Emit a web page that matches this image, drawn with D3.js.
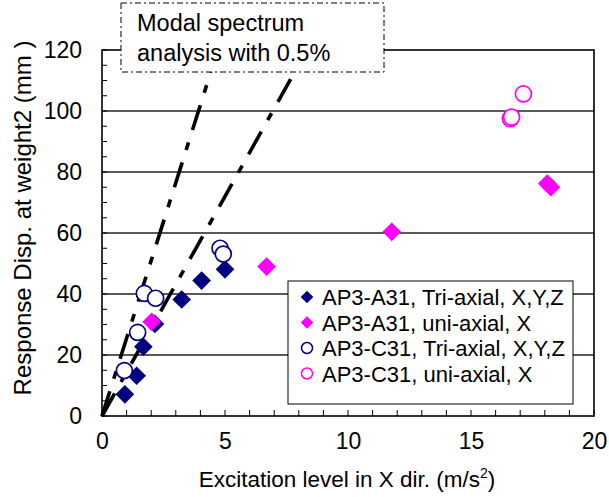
<!DOCTYPE html>
<html><head><meta charset="utf-8">
<script src="https://cdn.jsdelivr.net/npm/d3@7"></script>
<style>body{margin:0;background:#fff}svg{display:block;font-family:"Liberation Sans",Arial,sans-serif}</style>
</head><body>
<svg id="c" width="609" height="497"></svg>
<script>
const a31Tri = [[0.93,7.1],[1.41,13.2],[1.68,22.7],[2.15,30.2],[3.24,38.2],[4.05,44.4],[5.0,48.1]];
const a31Uni = [[2.02,30.9],[6.69,49.0],[11.78,60.4],[18.1,76.2],[18.25,75.0]];
const c31Tri = [[0.91,14.9],[1.45,27.4],[1.72,40.2],[2.18,38.6],[4.8,55.0],[4.93,53.1]];
const c31Uni = [[16.6,97.5],[16.65,98.0],[17.13,105.6]];
const modalSlopes = [25.5, 14.4];
const xTicks = [0,5,10,15,20];
const yTicks = [0,20,40,60,80,100,120];
const legendLabels = ["AP3-A31, Tri-axial, X,Y,Z","AP3-A31, uni-axial, X","AP3-C31, Tri-axial, X,Y,Z","AP3-C31, uni-axial, X"];

const svg = d3.select("#c");
const L=102,R=594,T=50,B=416;
const x = d3.scaleLinear().domain([0,20]).range([L,R]);
const y = d3.scaleLinear().domain([0,120]).range([B,T]);
const navy="#000080", mag="#ff00ff";

// grid
svg.append("g").selectAll("line").data(yTicks.filter(v=>v>0&&v<120)).join("line")
  .attr("x1",L).attr("x2",R).attr("y1",d=>y(d)).attr("y2",d=>y(d))
  .attr("stroke","#222").attr("stroke-width",1.3);

// minor ticks inward
svg.append("g").selectAll("line").data(d3.range(0,121,5)).join("line")
  .attr("x1",L).attr("x2",L+5).attr("y1",d=>y(d)).attr("y2",d=>y(d)).attr("stroke","#000").attr("stroke-width",1);
svg.append("g").selectAll("line").data(d3.range(0,21,1)).join("line")
  .attr("x1",d=>x(d)).attr("x2",d=>x(d)).attr("y1",B).attr("y2",B-6).attr("stroke","#000").attr("stroke-width",1);

// frame
svg.append("rect").attr("x",L).attr("y",T).attr("width",R-L).attr("height",B-T)
  .attr("fill","none").attr("stroke","#000").attr("stroke-width",1.6);

// axes labels
const xa = d3.axisBottom(x).tickValues(xTicks).tickSize(0).tickPadding(17);
const gx = svg.append("g").attr("transform",`translate(0,${B})`).call(xa);
gx.select(".domain").remove();
gx.selectAll("text").attr("font-size",23).attr("font-family","Liberation Sans, Arial").attr("fill","#000");
const ya = d3.axisLeft(y).tickValues(yTicks).tickSize(0).tickPadding(20);
const gy = svg.append("g").attr("transform",`translate(${L},0)`).call(ya);
gy.select(".domain").remove();
gy.selectAll("text").attr("font-size",23).attr("font-family","Liberation Sans, Arial").attr("fill","#000");

// modal lines
const boxBottomY = 72;
modalSlopes.forEach(s=>{
  const yEnd = y.invert(boxBottomY);
  svg.append("line").attr("x1",x(0)).attr("y1",y(0)).attr("x2",x(yEnd/s)).attr("y2",y(yEnd))
    .attr("stroke","#000").attr("stroke-width",3.6).attr("stroke-dasharray","26,13,8,13");
});

// points
const diamond = d3.symbol().type(d3.symbolSquare).size(175);
function diamonds(data,col){
  svg.append("g").selectAll("path").data(data).join("path")
   .attr("d",diamond).attr("transform",d=>`translate(${x(d[0])},${y(d[1])}) rotate(45)`)
   .attr("fill",col);
}
function circles(data,col){
  svg.append("g").selectAll("circle").data(data).join("circle")
   .attr("cx",d=>x(d[0])).attr("cy",d=>y(d[1])).attr("r",8)
   .attr("fill","#fff").attr("stroke",col).attr("stroke-width",1.7);
}
diamonds(a31Tri,navy); diamonds(a31Uni,mag); circles(c31Tri,navy); circles(c31Uni,mag);

// annotation box
svg.append("rect").attr("x",121).attr("y",3).attr("width",263).attr("height",69)
  .attr("fill","#fff").attr("stroke","#000").attr("stroke-width",1).attr("stroke-dasharray","6,3,2,3");
svg.append("text").attr("x",137).attr("y",31).attr("font-size",23.5).text("Modal spectrum");
svg.append("text").attr("x",137).attr("y",61).attr("font-size",23.5).text("analysis with 0.5%");

// legend
const lg = svg.append("g");
lg.append("rect").attr("x",288).attr("y",281).attr("width",285).attr("height",123)
  .attr("fill","#fff").attr("stroke","#000").attr("stroke-width",1);
const cols=[navy,mag,navy,mag];
legendLabels.forEach((t,i)=>{
  const cy = 297+i*25.5;
  if(i<2){
    lg.append("path").attr("d",d3.symbol().type(d3.symbolSquare).size(80)).attr("transform",`translate(307,${cy}) rotate(45)`).attr("fill",cols[i]);
  } else {
    lg.append("circle").attr("cx",307).attr("cy",cy).attr("r",5.5).attr("fill","#fff").attr("stroke",cols[i]).attr("stroke-width",1.5);
  }
  lg.append("text").attr("x",322).attr("y",cy+8).attr("font-size",22).text(t);
});

// axis titles
const xt = svg.append("text").attr("x",347).attr("y",487).attr("text-anchor","middle").attr("font-size",22.5);
xt.append("tspan").text("Excitation level in X dir. (m/s");
xt.append("tspan").attr("font-size",14).attr("dy",-9).text("2");
xt.append("tspan").attr("dy",9).text(")");
svg.append("text").attr("transform","translate(31,218) rotate(-90)").attr("text-anchor","middle").attr("font-size",24)
  .text("Response Disp. at weight2 (mm )");
</script>
</body></html>
